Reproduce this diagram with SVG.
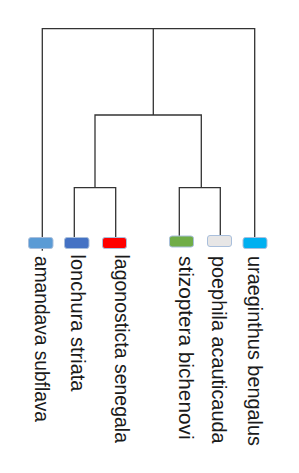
<svg xmlns="http://www.w3.org/2000/svg" width="299" height="473" viewBox="0 0 299 473">
<style>
.ln{stroke:#333;stroke-width:1.3;fill:none;stroke-linecap:square}
.bx{stroke:#a9bfdc;stroke-width:1}
.lb{font-family:"Liberation Sans",Arial,sans-serif;font-size:19.5px;fill:#1a1a1a}
</style>
<rect width="299" height="473" fill="#fff"/>
<g id="connectors">
<path class="ln" d="M42.3,28.7H254.7M42.3,28.7V250M254.7,28.7V237.5M153.3,28.7V115M95,115H201.3M95,115V187.7M201.3,115V187.7M74.3,187.7H115.7M74.3,187.7V237.5M115.7,187.7V237.5M179.3,187.7H220.3M179.3,187.7V236M220.3,187.7V235.5"/>
</g>
<g id="amandava-subflava">
<rect class="bx" x="28.5" y="237.5" width="24.5" height="11" rx="2.5" fill="#5B9BD5"/>
<text class="lb" transform="translate(34.5,256) rotate(90)" textLength="166" lengthAdjust="spacingAndGlyphs">amandava subflava</text>
</g>
<g id="lonchura-striata">
<rect class="bx" x="64.5" y="237.5" width="24.5" height="11" rx="2.5" fill="#4472C4"/>
<text class="lb" transform="translate(70.5,254.5) rotate(90)" textLength="137" lengthAdjust="spacingAndGlyphs">lonchura striata</text>
</g>
<g id="lagonosticta-senegala">
<rect class="bx" x="102.5" y="237.5" width="24" height="11" rx="2.5" fill="#FF0000"/>
<text class="lb" transform="translate(115,254.5) rotate(90)" textLength="188.5" lengthAdjust="spacingAndGlyphs">lagonosticta senegala</text>
</g>
<g id="stizoptera-bichenovi">
<rect class="bx" x="169.5" y="236" width="24" height="11" rx="2.5" fill="#70AD47"/>
<text class="lb" transform="translate(179,256) rotate(90)" textLength="183.5" lengthAdjust="spacingAndGlyphs">stizoptera bichenovi</text>
</g>
<g id="poephila-acauticauda">
<rect class="bx" x="207.5" y="235.5" width="24" height="11" rx="2.5" fill="#E7E6E6"/>
<text class="lb" transform="translate(212,256) rotate(90)" textLength="187.5" lengthAdjust="spacingAndGlyphs">poephila acauticauda</text>
</g>
<g id="uraeginthus-bengalus">
<rect class="bx" x="243" y="237.5" width="24" height="11" rx="2.5" fill="#00B0F0"/>
<text class="lb" transform="translate(247.5,256) rotate(90)" textLength="190" lengthAdjust="spacingAndGlyphs">uraeginthus bengalus</text>
</g>
</svg>
